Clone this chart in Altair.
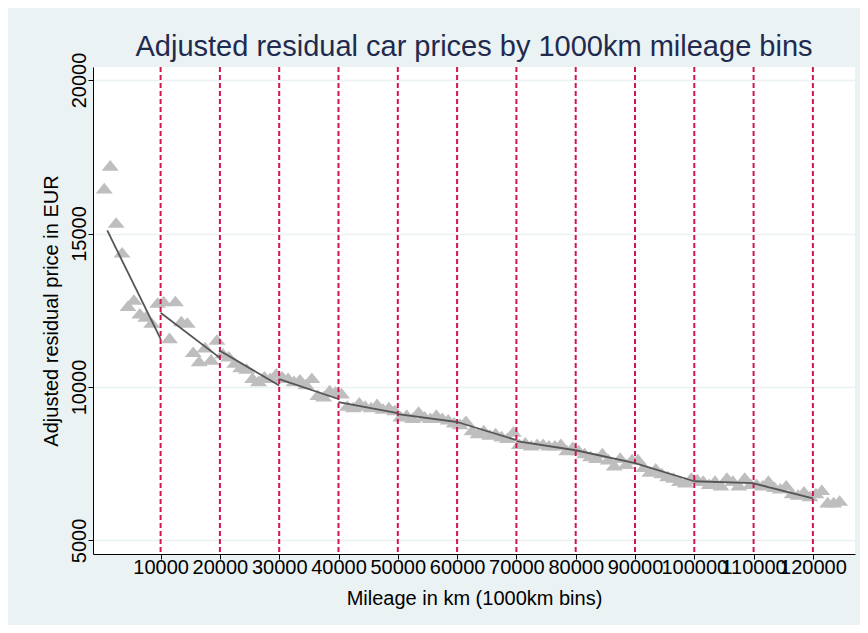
import altair as alt
import pandas as pd

# ---- data ----
bin_km = list(range(500, 125000, 1000))  # 1000 km bins (midpoints)
price = [
    16480, 17220, 15360, 14390, 12650, 12850, 12400, 12300, 12100, 12750,
    12800, 11600, 12800, 12150, 12100, 11150, 10850, 11300, 10900, 11550,
    11100, 11000, 10800, 10650, 10600, 10300, 10200, 10350, 10300, 10450,
    10350, 10300, 10200, 10250, 10100, 10300, 9750, 9700, 9900, 9850,
    9800, 9400, 9350, 9500, 9400, 9350, 9450, 9300, 9350, 9250,
    9050, 9100, 9000, 9200, 9050, 9000, 9100, 9000, 8950, 8850,
    8800, 8900, 8600, 8500, 8600, 8450, 8500, 8400, 8350, 8550,
    8150, 8200, 8100, 8150, 8150, 8100, 8100, 8150, 7950, 8050,
    7950, 7850, 7750, 7700, 7850, 7650, 7450, 7700, 7500, 7650,
    7650, 7400, 7250, 7350, 7200, 7100, 7050, 6950, 6900, 7050,
    7000, 6950, 6850, 6950, 6800, 7050, 6950, 6800, 7050, 6850,
    6850, 6800, 6950, 6750, 6700, 6800, 6550, 6500, 6600, 6450,
    6550, 6650, 6250, 6250, 6300,
]

# piecewise linear fits per 10000 km segment
fit_start_km = [1000, 10000, 20000, 30000, 40000, 50000, 60000, 70000, 80000, 90000, 100000, 110000]
fit_end_km = [10000, 20000, 30000, 40000, 50000, 60000, 70000, 80000, 90000, 100000, 110000, 120000]
fit_start_price = [15100, 12420, 11180, 10260, 9510, 9120, 8860, 8240, 7940, 7520, 6930, 6860]
fit_end_price = [11570, 10950, 10050, 9610, 9150, 8860, 8270, 7940, 7520, 6930, 6870, 6370]

xline_km = [10000, 20000, 30000, 40000, 50000, 60000, 70000, 80000, 90000, 100000, 110000, 120000]
ytick_price = [5000, 10000, 15000, 20000]

pts = pd.DataFrame({"km": bin_km, "price": price})
fits = pd.DataFrame({"km": fit_start_km, "km_end": fit_end_km,
                     "price": fit_start_price, "price_end": fit_end_price})
xl = pd.DataFrame({"km": xline_km})

FONT = "Liberation Sans"
xscale = alt.Scale(domain=[-1400, 127100], nice=False, zero=False)
yscale = alt.Scale(domain=[4560, 20425], nice=False, zero=False)

xaxis = alt.Axis(values=xline_km, format="d", title="Mileage in km (1000km bins)",
                 labelFontSize=20, titleFontSize=20, labelOverlap=False, labelFlush=False,
                 grid=False, tickSize=5, tickColor="black", domainColor="black",
                 labelColor="black", titleColor="black", titleFontWeight="normal",
                 labelPadding=-2, titlePadding=11)
yaxis = alt.Axis(values=ytick_price, format="d", title="Adjusted residual price in EUR",
                 labelFontSize=20, titleFontSize=20, labelAngle=-90, labelAlign="center",
                 labelBaseline="alphabetic", labelPadding=3,
                 grid=True, gridColor="#EAF2F3", gridWidth=1.5,
                 tickSize=5, tickColor="black", domainColor="black",
                 labelColor="black", titleColor="black", titleFontWeight="normal",
                 titlePadding=8)

tri = "M0,-0.62L-1,0.62L1,0.62Z"

points = alt.Chart(pts).mark_point(shape=tri, filled=True, size=290, opacity=1,
                                   color="#BEBEBE").encode(
    x=alt.X("km:Q", scale=xscale, axis=xaxis),
    y=alt.Y("price:Q", scale=yscale, axis=yaxis),
)

vlines = alt.Chart(xl).mark_rule(color="#D0174A", strokeWidth=2, strokeDash=[5, 3]).encode(
    x=alt.X("km:Q", scale=xscale, axis=xaxis),
)

fitlines = alt.Chart(fits).mark_rule(color="#555555", strokeWidth=1.8).encode(
    x=alt.X("km:Q", scale=xscale, axis=xaxis),
    x2="km_end:Q",
    y=alt.Y("price:Q", scale=yscale, axis=yaxis),
    y2="price_end:Q",
)

chart = alt.layer(points, vlines, fitlines).properties(
    width=762,
    height=487,
    padding={"left": 85, "top": 59, "right": 5, "bottom": 71},
    autosize=alt.AutoSizeParams(type="none"),
    title=alt.TitleParams("Adjusted residual car prices by 1000km mileage bins",
                          fontSize=29, font=FONT, fontWeight="normal", color="#1F2A4F",
                          anchor="middle", frame="group", offset=-10),
).configure(
    background="#EAF2F3",
    font=FONT,
).configure_view(
    fill="white", stroke=None,
).configure_axis(
    labelFont=FONT, titleFont=FONT,
)

chart.save("out.html", embed_options={"renderer": "svg", "actions": False})
